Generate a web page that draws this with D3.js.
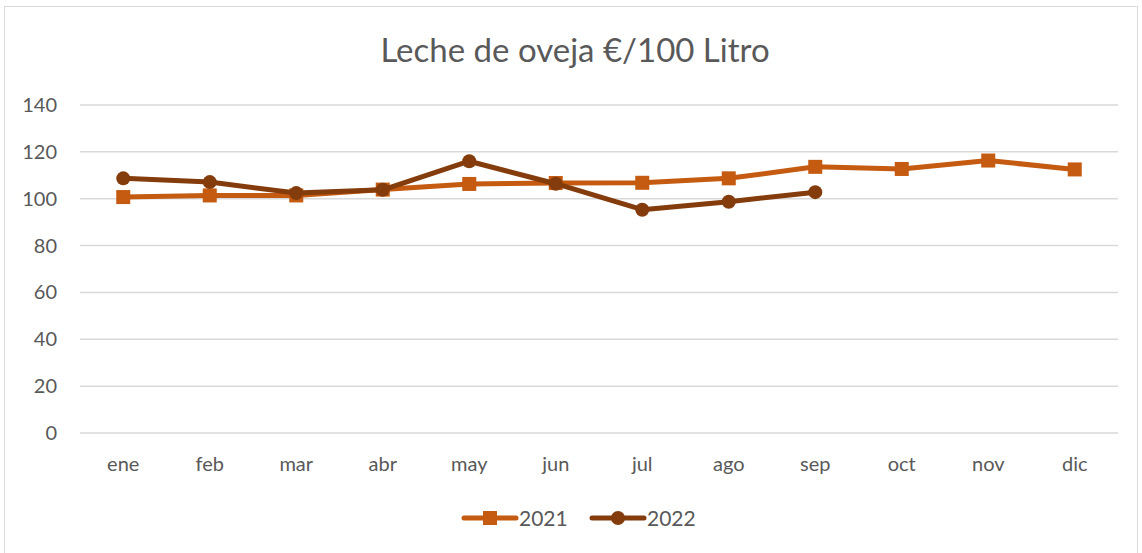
<!DOCTYPE html>
<html><head><meta charset="utf-8">
<script src="https://cdn.jsdelivr.net/npm/d3@7"></script>
<style>body{margin:0;background:#fff}svg{display:block}text{font-family:Lato,"Open Sans",sans-serif;fill:#595959}</style>
</head><body><svg id="c" width="1142" height="553"></svg>
<script>
const months = ["ene","feb","mar","abr","may","jun","jul","ago","sep","oct","nov","dic"];
const values2021 = [100.7,101.4,101.4,103.9,106.3,106.7,106.8,108.7,113.6,112.7,116.3,112.5];
const values2022 = [108.7,107.1,102.4,103.8,116.0,106.4,95.3,98.7,102.8];
const yTicks = [0,20,40,60,80,100,120,140];
const title = "Leche de oveja €/100 Litro";
const c2021 = "#C55A11", c2022 = "#843C0C";

const svg = d3.select("#c");
svg.append("rect").attr("x",4.5).attr("y",6.5).attr("width",1133).attr("height",560).attr("fill","none").attr("stroke","#d9d9d9");
const L=80,R=1118,T=105,B=433;
const x = d3.scaleBand().domain(months).range([L,R]);
const y = d3.scaleLinear().domain([0,140]).range([B,T]);

svg.append("text").attr("x",575).attr("y",62).attr("text-anchor","middle").attr("font-size",33).text(title);

const grid = svg.append("g");
grid.selectAll("line").data(yTicks).join("line").attr("x1",L).attr("x2",R)
  .attr("y1",d=>y(d)).attr("y2",d=>y(d)).attr("stroke","#d9d9d9").attr("stroke-width",1.5);
svg.append("g").selectAll("text").data(yTicks).join("text").attr("x",57).attr("y",d=>y(d)+7)
  .attr("text-anchor","end").attr("font-size",20).text(d=>d);
svg.append("g").selectAll("text").data(months).join("text").attr("x",d=>x(d)+x.bandwidth()/2).attr("y",471)
  .attr("text-anchor","middle").attr("font-size",20).text(d=>d);

const cx = (d,i)=>x(months[i])+x.bandwidth()/2;
const line = d3.line().x((d,i)=>cx(d,i)).y(d=>y(d));
svg.append("path").datum(values2021).attr("d",line).attr("fill","none").attr("stroke",c2021).attr("stroke-width",5).attr("stroke-linejoin","round");
svg.append("g").selectAll("rect").data(values2021).join("rect").attr("x",(d,i)=>cx(d,i)-7).attr("y",d=>y(d)-7)
  .attr("width",14).attr("height",14).attr("fill",c2021);
svg.append("path").datum(values2022).attr("d",line).attr("fill","none").attr("stroke",c2022).attr("stroke-width",5).attr("stroke-linejoin","round");
svg.append("g").selectAll("circle").data(values2022).join("circle").attr("cx",(d,i)=>cx(d,i)).attr("cy",d=>y(d))
  .attr("r",7).attr("fill",c2022);

// legend
const lg = svg.append("g");
lg.append("line").attr("x1",464).attr("x2",516).attr("y1",518).attr("y2",518).attr("stroke",c2021).attr("stroke-width",5).attr("stroke-linecap","round");
lg.append("rect").attr("x",483).attr("y",511).attr("width",14).attr("height",14).attr("fill",c2021);
lg.append("text").attr("x",519).attr("y",526).attr("font-size",21).text("2021");
lg.append("line").attr("x1",592).attr("x2",644).attr("y1",518).attr("y2",518).attr("stroke",c2022).attr("stroke-width",5).attr("stroke-linecap","round");
lg.append("circle").attr("cx",618).attr("cy",518).attr("r",7).attr("fill",c2022);
lg.append("text").attr("x",647).attr("y",526).attr("font-size",21).text("2022");
</script></body></html>
